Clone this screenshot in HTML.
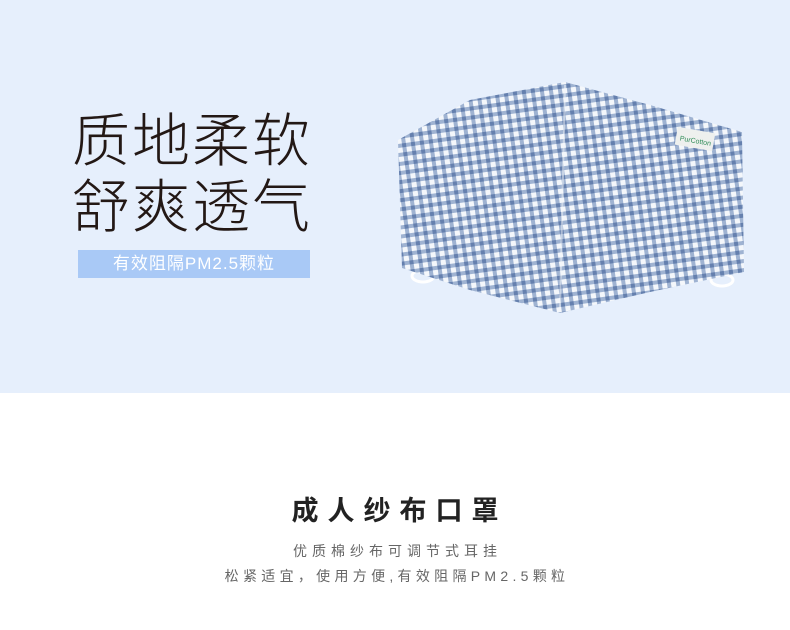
<!DOCTYPE html>
<html><head><meta charset="utf-8"><style>
body{margin:0;width:790px;height:630px;background:#fff;overflow:hidden;font-family:"Liberation Sans","Noto Sans CJK SC",sans-serif;position:relative}
.top{position:absolute;left:0;top:0;width:790px;height:393px;background:#e6effc}
.h{position:absolute;left:72px;font-size:58px;color:#231815;letter-spacing:2px;line-height:60px;font-weight:300}
.tag{position:absolute;left:78px;top:250px;width:232px;height:28px;background:#a9c9f6;color:#fff;font-size:17px;line-height:28px;text-align:center;letter-spacing:1px}
.t{position:absolute;width:790px;text-align:center;left:0}
</style></head><body>
<div class="top"></div>
<div class="h" style="top:112px">质地柔软</div>
<div class="h" style="top:178px">舒爽透气</div>
<div class="tag">有效阻隔PM2.5颗粒</div>
<svg style="position:absolute;left:0;top:0" width="790" height="393">
<defs><pattern id="g" width="9" height="9" patternUnits="userSpaceOnUse" patternTransform="rotate(-8)">
<rect width="9" height="9" fill="#f4f7fb"/><rect width="4" height="9" fill="#9fb3d2"/><rect width="9" height="4" fill="#9fb3d2"/><rect width="4" height="4" fill="#6580ae"/></pattern></defs>
<ellipse cx="423" cy="276" rx="11" ry="6" fill="none" stroke="#fff" stroke-width="3"/>
<ellipse cx="722" cy="280" rx="11" ry="6" fill="none" stroke="#fff" stroke-width="3"/>
<polygon points="398,140 470,100 565,82 650,105 742,132 744,272 650,292 560,313 470,290 402,268" fill="url(#g)"/>
<line x1="565" y1="85" x2="560" y2="310" stroke="#f4f7fb" stroke-width="2" opacity=".5"/>
<rect x="676" y="130" width="38" height="18" fill="#eef0ee" transform="rotate(10 695 139)"/>
<text x="680" y="143" font-size="7" fill="#2e8b57" transform="rotate(10 695 139)">PurCotton</text>
</svg>
<div class="t" style="top:489px;font-size:27px;font-weight:bold;color:#222;letter-spacing:9px;text-indent:9px">成人纱布口罩</div>
<div class="t" style="top:541px;font-size:14px;color:#666;letter-spacing:5px;text-indent:5px">优质棉纱布可调节式耳挂</div>
<div class="t" style="top:566px;font-size:14px;color:#666;letter-spacing:4.3px;text-indent:4px">松紧适宜，使用方便,有效阻隔PM2.5颗粒</div>
</body></html>
